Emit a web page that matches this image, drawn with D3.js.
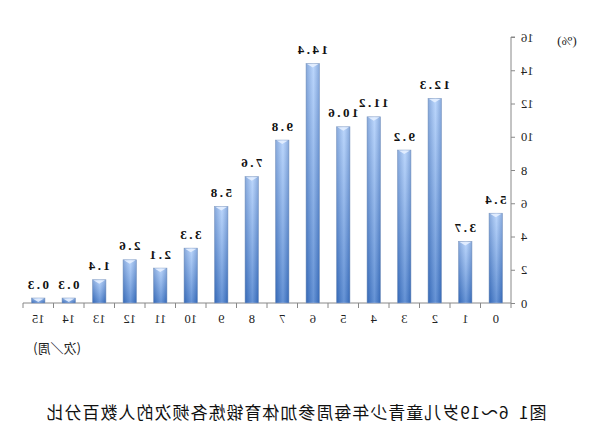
<!DOCTYPE html>
<html><head><meta charset="utf-8">
<script src="https://cdn.jsdelivr.net/npm/d3@7"></script>
<style>html,body{margin:0;padding:0;background:#fff;}svg{display:block;}</style>
</head><body>
<script>
const categories = ["0","1","2","3","4","5","6","7","8","9","10","11","12","13","14","15"];
const values = [5.4,3.7,12.3,9.2,11.2,10.6,14.4,9.8,7.6,5.8,3.3,2.1,2.6,1.4,0.3,0.3];
const yTicks = [0,2,4,6,8,10,12,14,16];
const title = "图1  6～19岁儿童青少年每周参加体育锻炼各频次的人数百分比";
const yUnit = "(%)";
const xUnit = "(次／周)";

const W = 595, H = 437;
const svg = d3.select("body").append("svg").attr("width", W).attr("height", H);
const defs = svg.append("defs");
const gv = defs.append("linearGradient").attr("id","gv").attr("x1",0).attr("y1",0).attr("x2",0).attr("y2",1);
gv.append("stop").attr("offset","0%").attr("stop-color","#a9cbfb");
gv.append("stop").attr("offset","100%").attr("stop-color","#3a74c9");
const gh = defs.append("linearGradient").attr("id","gh").attr("x1",0).attr("y1",0).attr("x2",1).attr("y2",0);
gh.append("stop").attr("offset","0%").attr("stop-color","#1e3f7a").attr("stop-opacity",0.25);
gh.append("stop").attr("offset","45%").attr("stop-color","#ffffff").attr("stop-opacity",0.22);
gh.append("stop").attr("offset","100%").attr("stop-color","#1e3f7a").attr("stop-opacity",0.25);

// whole reference is horizontally mirrored
const g = svg.append("g").attr("transform", `translate(${W},0) scale(-1,1)`);

const x = d3.scaleBand().domain(categories).range([84, 572]).paddingInner(0.56).paddingOuter(0.28);
const y = d3.scaleLinear().domain([0,16]).range([303, 37]);

// y axis
const ya = g.append("g").attr("transform","translate(84,0)")
  .call(d3.axisLeft(y).tickValues(yTicks).tickSize(4).tickPadding(6).tickFormat(d3.format("d")));
ya.select(".domain").attr("stroke","#888").attr("d", `M-4,${y(16)}H0V${y(0)}`);
ya.selectAll(".tick line").attr("stroke","#888");
ya.selectAll(".tick text").attr("font-family","'Liberation Serif', serif").attr("font-size",12.5).attr("fill","#222");

// x axis with boundary ticks
const xa = g.append("g").attr("transform",`translate(0,${y(0)})`);
xa.append("line").attr("x1",84).attr("x2",572).attr("stroke","#888");
const bounds = d3.range(categories.length+1).map(i => 84 + i*(488/categories.length));
xa.selectAll(".bt").data(bounds).join("line").attr("class","bt")
  .attr("x1",d=>d).attr("x2",d=>d).attr("y1",0).attr("y2",5).attr("stroke","#888");
xa.selectAll(".xl").data(categories).join("text").attr("class","xl")
  .attr("x", d => x(d) + x.bandwidth()/2).attr("y", 20)
  .attr("text-anchor","middle").attr("font-family","'Liberation Serif', serif").attr("font-size",12.5).attr("fill","#222")
  .text(d=>d);

// bars
const bars = g.append("g");
categories.forEach((c,i) => {
  const bx = x(c), bw = x.bandwidth(), by = y(values[i]), bh = y(0) - y(values[i]);
  bars.append("rect").attr("x",bx).attr("y",by).attr("width",bw).attr("height",bh).attr("fill","url(#gv)").attr("stroke","#8fa6c8").attr("stroke-width",0.6);
  bars.append("rect").attr("x",bx).attr("y",by).attr("width",bw).attr("height",bh).attr("fill","url(#gh)");
  const cap = Math.min(4, bh);
  bars.append("path").attr("d",`M${bx+1},${by+0.5}L${bx+bw-1},${by+0.5}L${bx+bw/2},${by+cap}Z`).attr("fill","#e6f0ff").attr("opacity",0.9);
});

// value labels
g.append("g").selectAll("text").data(categories).join("text")
  .attr("x", d => x(d) + x.bandwidth()/2 + 1.2)
  .attr("y", (d,i) => y(values[i]) - 9.5)
  .attr("text-anchor","middle").attr("font-family","'Liberation Serif', serif").attr("font-weight","bold")
  .attr("font-size",13).attr("letter-spacing",2.5).attr("fill","#111")
  .text((d,i) => values[i].toFixed(1));

// units
g.append("text").attr("x",28).attr("y",45).attr("text-anchor","middle")
  .attr("font-family","'Liberation Serif', serif").attr("font-size",13).attr("fill","#222").text(yUnit);
g.append("text").attr("x",538).attr("y",353).attr("text-anchor","middle")
  .attr("font-family","'Noto Sans CJK SC', sans-serif").attr("font-size",13).attr("fill","#222").text(xUnit);

// title
g.append("text").attr("x",298.5).attr("y",419).attr("text-anchor","middle").style("white-space","pre")
  .attr("textLength",500).attr("lengthAdjust","spacing")
  .attr("font-family","'Noto Sans CJK SC', sans-serif").attr("font-size",17).attr("fill","#111").text(title);
</script>
</body></html>
